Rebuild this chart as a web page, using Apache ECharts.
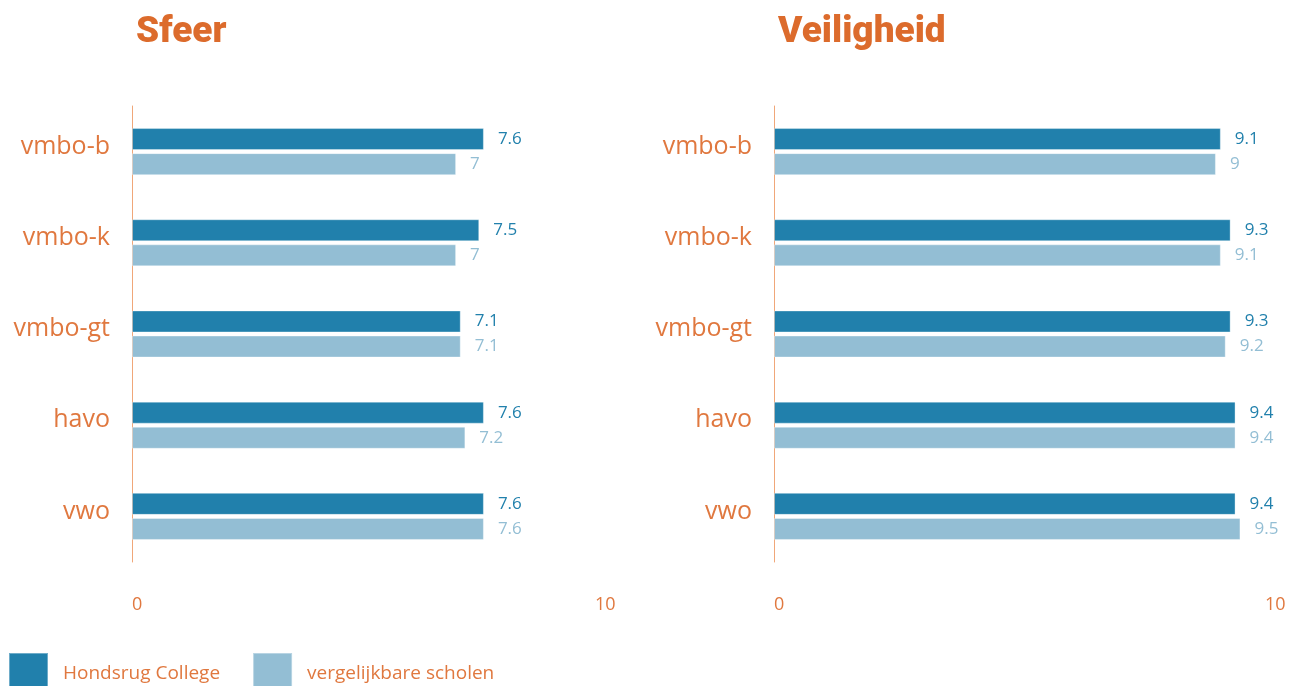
<!DOCTYPE html>
<html>
<head>
<meta charset="utf-8">
<script src="https://cdn.jsdelivr.net/npm/echarts@6/dist/echarts.min.js"></script>
<style>
  html, body { margin: 0; padding: 0; background: #fff; }
  #chart { width: 1294px; height: 686px; }
</style>
</head>
<body>
<div id="chart"></div>
<script>
const categories = ['vmbo-b', 'vmbo-k', 'vmbo-gt', 'havo', 'vwo'];
const seriesNames = ['Hondsrug College', 'vergelijkbare scholen'];
const titles = ['Sfeer', 'Veiligheid'];

// Sfeer
const sfeerHondsrug = [7.6, 7.5, 7.1, 7.6, 7.6];
const sfeerVergelijk = [7, 7, 7.1, 7.2, 7.6];
// Veiligheid
const veiligHondsrug = [9.1, 9.3, 9.3, 9.4, 9.4];
const veiligVergelijk = [9, 9.1, 9.2, 9.4, 9.5];

const axisMin = 0;
const axisMax = 10;

const orange = '#e0783f';
const dark = '#2180ac';
const light = '#93bed4';
const font = '"Open Sans", "Noto Sans", sans-serif';

const chart = echarts.init(document.getElementById('chart'));

const grids = [
    { left: 132, top: 106, width: 463, height: 456 },
    { left: 774, top: 106, width: 491, height: 456 }
];

const makeXAxis = function (idx) {
    return {
        type: 'value',
        gridIndex: idx,
        min: axisMin,
        max: axisMax,
        interval: 10,
        axisLine: { show: false },
        axisTick: { show: false },
        splitLine: { show: false },
        axisLabel: {
            color: orange,
            fontSize: 18,
            fontFamily: font,
            align: 'left',
            margin: 34
        }
    };
};

const makeYAxis = function (idx) {
    return {
        type: 'category',
        gridIndex: idx,
        data: categories,
        inverse: true,
        axisLine: { show: true, lineStyle: { color: '#f0a779', width: 1 } },
        axisTick: { show: false },
        axisLabel: {
            margin: 22,
            formatter: '{c|{value}}',
            rich: {
                c: {
                    color: orange,
                    fontSize: 25,
                    fontFamily: font,
                    lineHeight: 30,
                    padding: [0, 0, 10, 0]
                }
            }
        }
    };
};

const makeBar = function (name, data, idx, color) {
    return {
        name: name,
        type: 'bar',
        xAxisIndex: idx,
        yAxisIndex: idx,
        data: data,
        barWidth: 22,
        barGap: '14%',
        itemStyle: { color: color, borderColor: 'rgba(255,255,255,0.35)', borderWidth: 1 },
        label: {
            show: true,
            position: 'right',
            distance: 14,
            color: color,
            fontSize: 17,
            fontFamily: font
        },
        emphasis: { disabled: true }
    };
};

chart.setOption({
    animation: false,
    textStyle: { fontFamily: font },
    title: [
        {
            text: titles[0],
            left: 131,
            top: 9,
            textStyle: { color: '#dc6b2c', fontSize: 37, fontWeight: 900, fontFamily: 'Roboto, sans-serif' }
        },
        {
            text: titles[1],
            left: 773,
            top: 9,
            textStyle: { color: '#dc6b2c', fontSize: 37, fontWeight: 900, fontFamily: 'Roboto, sans-serif' }
        }
    ],
    legend: {
        data: seriesNames,
        left: 8,
        top: 652,
        padding: 0,
        icon: 'rect',
        itemWidth: 39,
        itemHeight: 34,
        itemGap: 32,
        formatter: '{t|{name}}',
        textStyle: {
            rich: {
                t: {
                    color: orange,
                    fontSize: 19,
                    fontFamily: font,
                    lineHeight: 24,
                    padding: [8, 0, 0, 10]
                }
            }
        }
    },
    grid: grids,
    xAxis: [makeXAxis(0), makeXAxis(1)],
    yAxis: [makeYAxis(0), makeYAxis(1)],
    series: [
        makeBar(seriesNames[0], sfeerHondsrug, 0, dark),
        makeBar(seriesNames[1], sfeerVergelijk, 0, light),
        makeBar(seriesNames[0], veiligHondsrug, 1, dark),
        makeBar(seriesNames[1], veiligVergelijk, 1, light)
    ]
});
</script>
</body>
</html>
